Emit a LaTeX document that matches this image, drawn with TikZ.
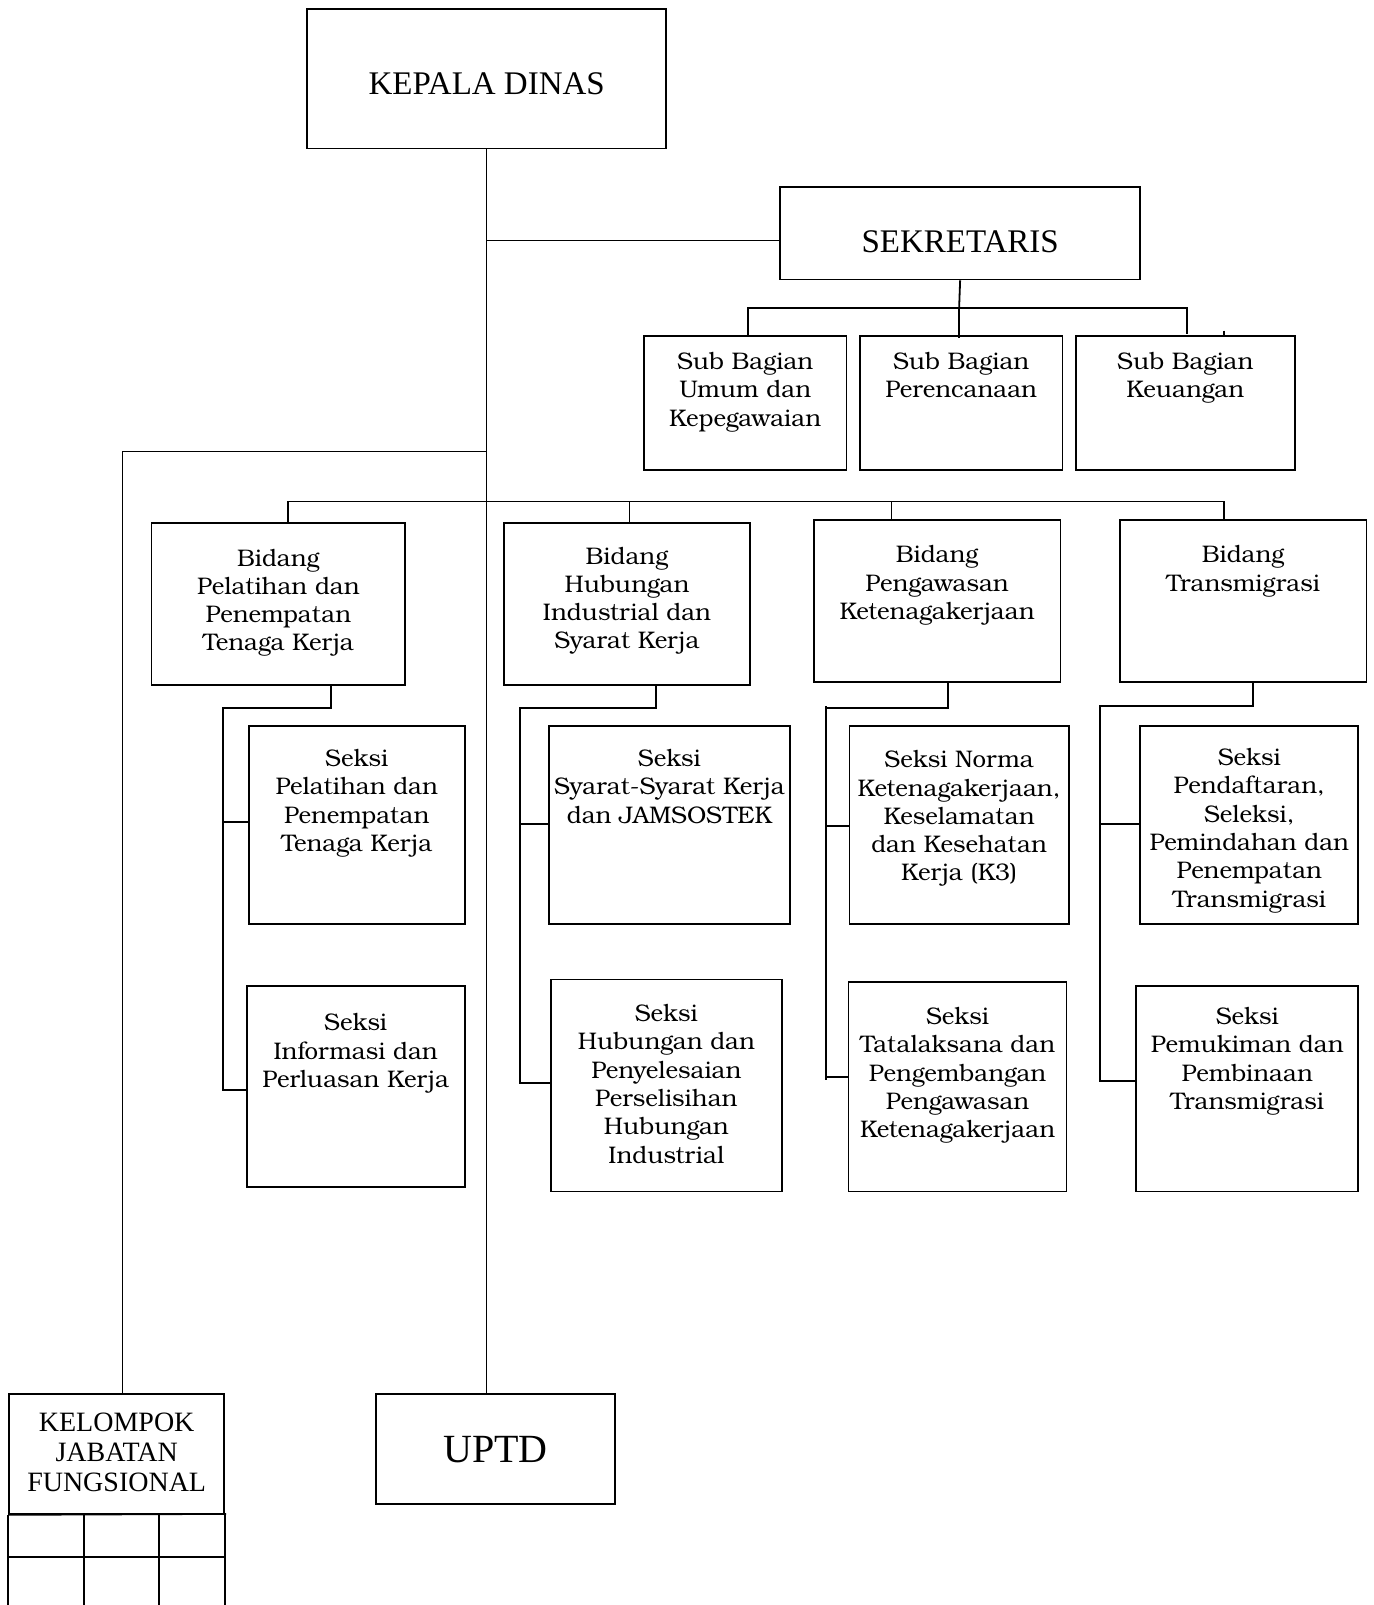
\documentclass[tikz,border=0pt]{standalone}
\usepackage{fontspec}
\setmainfont{Liberation Serif}
\newfontfamily\bonum{texgyrebonum-regular.otf}
\usetikzlibrary{fit,calc}
\begin{document}
\begin{tikzpicture}[x=1.0238pt,y=-1.0238pt,
  box/.style={draw, line width=1.8pt, inner sep=0pt},
  conn/.style={line width=1.8pt},
  thin/.style={line width=1.3pt},
  txt/.style={inner sep=0pt, align=center, anchor=north, font=\bonum\fontsize{24}{28.3}\selectfont},
  ttl/.style={inner sep=0pt, align=center, font=\fontsize{33}{40}\selectfont}]
\useasboundingbox (0,0) rectangle (1342,1568);

% boxes
\node[box, fit={(300,9) (651,145)}] (kepala) {};
\node[ttl] (kepalat) at (475.5,82) {KEPALA DINAS};
\node[box, fit={(762,183) (1114,273)}] (sek) {};
\node[ttl] (sekt) at (938,236) {SEKRETARIS};

\node[box, fit={(629,328) (827,459)}] (sb1) {};
\node[box, fit={(840,328) (1038,459)}] (sb2) {};
\node[box, fit={(1051,328) (1265,459)}] (sb3) {};
\node[txt] (sb1t) at (728,344) {Sub Bagian\\Umum dan\\Kepegawaian};
\node[txt] (sb2t) at (939,344) {Sub Bagian\\Perencanaan};
\node[txt] (sb3t) at (1158,344) {Sub Bagian\\Keuangan};

\node[box, fit={(148,511) (396,669)}] (b1) {};
\node[box, fit={(492,511) (733,669)}] (b2) {};
\node[box, fit={(795,508) (1036,666)}] (b3) {};
\node[box, fit={(1094,508) (1335,666)}] (b4) {};
\node[txt] (b1t) at (272,536) {Bidang\\Pelatihan dan\\Penempatan\\Tenaga Kerja};
\node[txt] (b2t) at (612.5,534) {Bidang\\Hubungan\\Industrial dan\\Syarat Kerja};
\node[txt] (b3t) at (915.5,533) {Bidang\\Pengawasan\\Ketenagakerjaan};
\node[txt] (b4t) at (1214.5,533) {Bidang\\Transmigrasi};

\node[box, fit={(243,709) (454,903)}] (s1a) {};
\node[box, fit={(241,963) (454,1160)}] (s1b) {};
\node[box, fit={(536,709) (772,903)}] (s2a) {};
\node[box, fit={(538,957) (764,1164)}] (s2b) {};
\node[box, fit={(830,709) (1044,903)}] (s3a) {};
\node[box, fit={(829,959) (1042,1164)}] (s3b) {};
\node[box, fit={(1114,709) (1327,903)}] (s4a) {};
\node[box, fit={(1110,963) (1327,1164)}] (s4b) {};
\node[txt] (s1at) at (348.5,732) {Seksi\\Pelatihan dan\\Penempatan\\Tenaga Kerja};
\node[txt] (s1bt) at (347.5,990) {Seksi\\Informasi dan\\Perluasan Kerja};
\node[txt] (s2at) at (654,732) {Seksi\\Syarat-Syarat Kerja\\dan JAMSOSTEK};
\node[txt] (s2bt) at (651,981) {Seksi\\Hubungan dan\\Penyelesaian\\Perselisihan\\Hubungan\\Industrial};
\node[txt] (s3at) at (937,733) {Seksi Norma\\Ketenagakerjaan,\\Keselamatan\\dan Kesehatan\\Kerja (K3)};
\node[txt] (s3bt) at (935.5,984) {Seksi\\Tatalaksana dan\\Pengembangan\\Pengawasan\\Ketenagakerjaan};
\node[txt] (s4at) at (1220.5,731) {Seksi\\Pendaftaran,\\Seleksi,\\Pemindahan dan\\Penempatan\\Transmigrasi};
\node[txt] (s4bt) at (1218.5,984) {Seksi\\Pemukiman dan\\Pembinaan\\Transmigrasi};

\node[box, fit={(9,1362) (219,1479)}] (kjf) {};
\node[inner sep=0pt, align=center, anchor=north, font=\fontsize{28}{30.2}\selectfont] (kjft) at (114,1380) {KELOMPOK\\JABATAN\\FUNGSIONAL};
\draw[conn] (kjf.south west) -- (kjf.south west |- 0,1568);
\draw[conn] (kjf.south east) -- (kjf.south east |- 0,1568);
\draw[conn] (kjf.south west) -- (221,1479);
\draw[conn] (kjf.west |- 0,1521) -- (221,1521);
\draw[conn] (82,1479) -- (82,1568);
\draw[conn] (155,1479) -- (155,1568);

\node[box, fit={(367,1362) (601,1469)}] (uptd) {};
\node[inner sep=0pt, font=\fontsize{40}{46}\selectfont] (uptdt) at (484,1416) {UPTD};

% connectors
\coordinate (jsek) at (475.5,235);
\coordinate (jleft) at (475.5,441);
\draw[thin] (kepala.south) -- (kepala.south |- uptd.north);
\draw[conn] (jsek) -- (sek.west |- jsek);
\draw[thin] (jleft) -- (120,441) -- (kjf.north -| 120,0);

\coordinate (sbus) at (937,301);
\draw[conn] (sek.south) -- (sbus);
\draw[conn] (sbus) -- (937,330);
\draw[conn] (731,328) -- (731,301) -- (1160,301) -- (1160,326);
\draw[conn] (1196,323) -- (sb3.north -| 1196,0);

\coordinate (bbus) at (475.5,490);
\draw[conn] (b1.north -| 281,0) -- (281,490) -- (1196,490) -- (b4.north -| 1196,0);
\draw[conn] (615,490) -- (b2.north -| 615,0);
\draw[conn] (871,490) -- (b3.north -| 871,0);

\draw[conn] (b1.south -| 323,0) -- (323,692) -- (218,692) -- (218,1065) -- (s1b.west |- 0,1065);
\draw[conn] (218,803) -- (s1a.west |- 0,803);
\draw[conn] (b2.south -| 641,0) -- (641,692) -- (508,692) -- (508,1058) -- (s2b.west |- 0,1058);
\draw[conn] (508,805) -- (s2a.west |- 0,805);
\draw[conn] (b3.south -| 926,0) -- (926,692) -- (807,692);
\draw[conn] (807,690) -- (807,1055);
\draw[conn] (807,807) -- (s3a.west |- 0,807);
\draw[conn] (807,1052) -- (s3b.west |- 0,1052);
\draw[conn] (b4.south -| 1224,0) -- (1224,690) -- (1075,690) -- (1075,1056) -- (s4b.west |- 0,1056);
\draw[conn] (1075,805) -- (s4a.west |- 0,805);
\end{tikzpicture}
\end{document}
